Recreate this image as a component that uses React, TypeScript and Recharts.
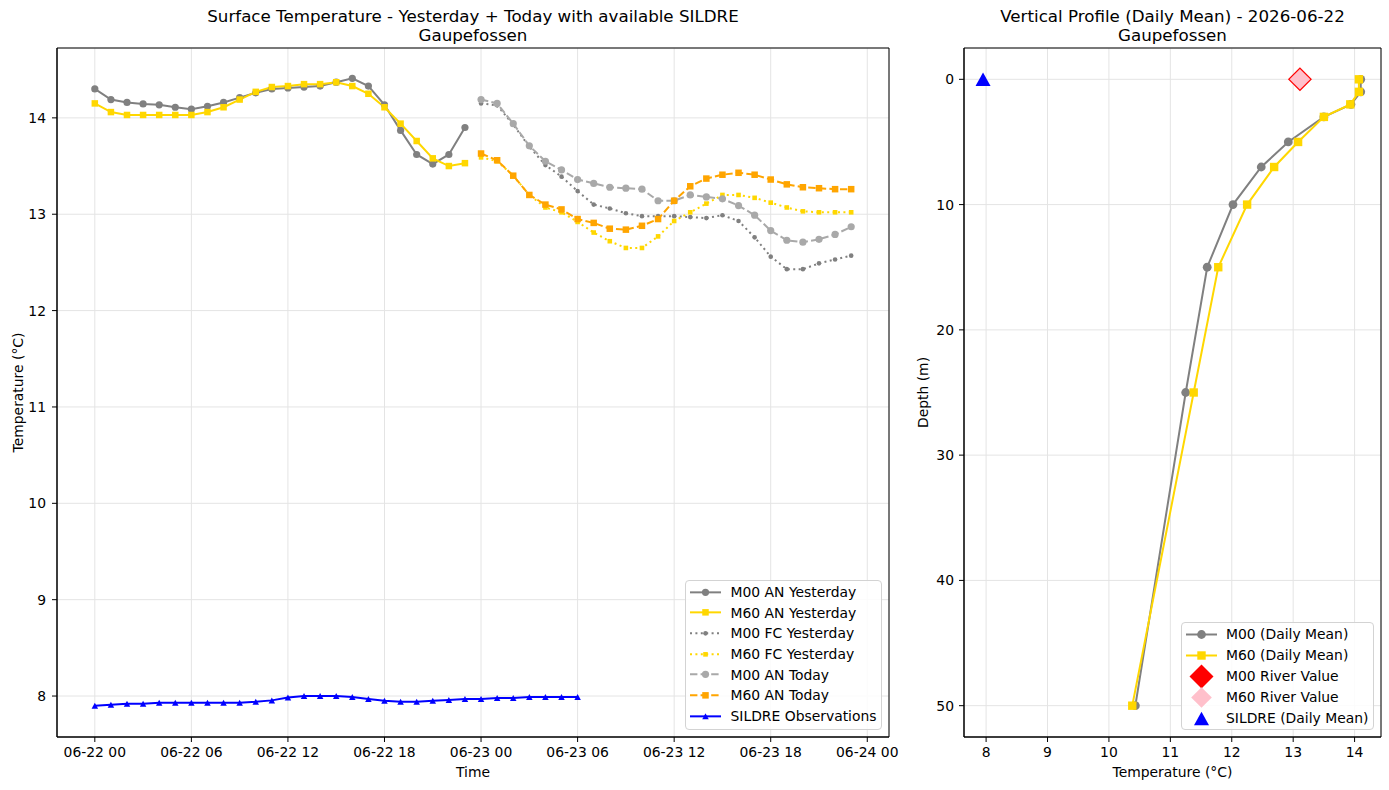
import {
  CartesianGrid,
  Label,
  Legend,
  Line,
  LineChart,
  ReferenceArea,
  Scatter,
  ScatterChart,
  XAxis,
  YAxis,
} from 'recharts'

const FONT = '"DejaVu Sans", Verdana, sans-serif'
const TICK = { fill: '#000', fontSize: 13.9, fontFamily: FONT }

const GRAY = '#808080'
const GOLD = '#ffd700'
const DARKGRAY = '#a9a9a9'
const ORANGE = '#ffa500'
const BLUE = '#0000ff'
const RED = '#ff0000'
const PINK = '#ffc0cb'
const GRID = '#e4e4e4'

const DASHED = '7.4 3.2'
const DOTTED = '2 3.4'

// hours counted from 06-22 00
const yesterdayHours = [0, 1, 2, 3, 4, 5, 6, 7, 8, 9, 10, 11, 12, 13, 14, 15, 16, 17, 18, 19, 20, 21, 22, 23]
const todayHours = [24, 25, 26, 27, 28, 29, 30, 31, 32, 33, 34, 35, 36, 37, 38, 39, 40, 41, 42, 43, 44, 45, 46, 47]
const sildreHours = [0, 1, 2, 3, 4, 5, 6, 7, 8, 9, 10, 11, 12, 13, 14, 15, 16, 17, 18, 19, 20, 21, 22, 23, 24, 25, 26, 27, 28, 29, 30]

const m00AnYesterday = [
  14.3, 14.19, 14.16, 14.145, 14.135, 14.11, 14.09, 14.12, 14.16, 14.21, 14.26, 14.3,
  14.31, 14.32, 14.33, 14.37, 14.41, 14.33, 14.135, 13.87, 13.62, 13.52, 13.62, 13.9,
]
const m60AnYesterday = [
  14.15, 14.06, 14.03, 14.03, 14.03, 14.03, 14.03, 14.06, 14.11, 14.19, 14.27, 14.32,
  14.33, 14.35, 14.35, 14.37, 14.33, 14.25, 14.11, 13.94, 13.76, 13.58, 13.5, 13.53,
]
const m00FcYesterday = [
  14.15, 14.13, 13.93, 13.7, 13.51, 13.39, 13.24, 13.1, 13.06, 13.01, 12.98, 12.98,
  12.98, 12.97, 12.96, 12.99, 12.93, 12.76, 12.56, 12.43, 12.43, 12.49, 12.53, 12.57,
]
const m60FcYesterday = [
  13.59, 13.55, 13.4, 13.2, 13.07, 13.02, 12.92, 12.81, 12.72, 12.65, 12.65, 12.77,
  12.93, 13.02, 13.11, 13.2, 13.2, 13.17, 13.12, 13.07, 13.03, 13.02, 13.02, 13.02,
]
const m00AnToday = [
  14.19, 14.15, 13.94, 13.71, 13.55, 13.46, 13.36, 13.32, 13.28, 13.27, 13.26, 13.14,
  13.14, 13.2, 13.18, 13.16, 13.09, 12.99, 12.83, 12.73, 12.71, 12.74, 12.79, 12.87,
]
const m60AnToday = [
  13.63, 13.56, 13.4, 13.2, 13.1, 13.05, 12.95, 12.91, 12.85, 12.84, 12.88, 12.95,
  13.14, 13.29, 13.37, 13.41, 13.43, 13.41, 13.36, 13.31, 13.28, 13.27, 13.26, 13.26,
]
const sildreObs = [
  7.9, 7.91, 7.92, 7.92, 7.93, 7.93, 7.93, 7.93, 7.93, 7.93, 7.94, 7.955, 7.985, 8.0, 8.0, 8.0,
  7.99, 7.97, 7.95, 7.94, 7.94, 7.95, 7.96, 7.97, 7.97, 7.98, 7.98, 7.99, 7.99, 7.99, 7.99,
]

const timeTicks = [0, 6, 12, 18, 24, 30, 36, 42, 48]
const timeTickLabels = ['06-22 00', '06-22 06', '06-22 12', '06-22 18', '06-23 00', '06-23 06', '06-23 12', '06-23 18', '06-24 00']
const surfaceTempTicks = [8, 9, 10, 11, 12, 13, 14]

// daily mean vertical profile
const profileDepths = [0, 1, 2, 3, 5, 7, 10, 15, 25, 50]
const m00Profile = [14.1, 14.1, 13.94, 13.5, 12.92, 12.48, 12.02, 11.6, 11.25, 10.43]
const m60Profile = [14.07, 14.07, 13.93, 13.5, 13.08, 12.69, 12.25, 11.78, 11.38, 10.38]
const m00RiverValue = 13.11
const m60RiverValue = 13.11
const sildreDailyMean = 7.95
const profileTempTicks = [8, 9, 10, 11, 12, 13, 14]
const depthTicks = [0, 10, 20, 30, 40, 50]

const series = (xs: number[], ys: number[]) => xs.map((h, i) => ({ h, v: ys[i] }))
const profile = (temps: number[], depths: number[]) => temps.map((t, i) => ({ t, d: depths[i] }))

type DotProps = { cx?: number; cy?: number; index?: number }
type DotFn = (p: DotProps) => JSX.Element

const circleDot = (r: number, fill: string): DotFn => (p) => (
  <circle key={`c${p.index}`} cx={p.cx} cy={p.cy} r={r} fill={fill} stroke="none" />
)
const squareDot = (s: number, fill: string): DotFn => (p) => (
  <rect key={`s${p.index}`} x={(p.cx ?? 0) - s / 2} y={(p.cy ?? 0) - s / 2} width={s} height={s} fill={fill} stroke="none" />
)
const triangleDot = (w: number, h: number, fill: string): DotFn => (p) => {
  const x = p.cx ?? 0
  const y = p.cy ?? 0
  return (
    <polygon
      key={`t${p.index}`}
      points={`${x},${y - h / 2} ${x - w / 2},${y + h / 2} ${x + w / 2},${y + h / 2}`}
      fill={fill}
      stroke="none"
    />
  )
}
const diamondDot = (half: number, fill: string): DotFn => (p) => {
  const x = p.cx ?? 0
  const y = p.cy ?? 0
  return (
    <polygon
      key={`d${p.index}`}
      points={`${x},${y - half} ${x + half},${y} ${x},${y + half} ${x - half},${y}`}
      fill={fill}
      stroke="none"
    />
  )
}

interface LegendItem {
  label: string
  color: string
  dash?: string
  line: boolean
  marker: DotFn
}

const surfaceLegend: LegendItem[] = [
  { label: 'M00 AN Yesterday', color: GRAY, line: true, marker: circleDot(3.6, GRAY) },
  { label: 'M60 AN Yesterday', color: GOLD, line: true, marker: squareDot(6.5, GOLD) },
  { label: 'M00 FC Yesterday', color: GRAY, dash: DOTTED, line: true, marker: circleDot(2.3, GRAY) },
  { label: 'M60 FC Yesterday', color: GOLD, dash: DOTTED, line: true, marker: squareDot(4.6, GOLD) },
  { label: 'M00 AN Today', color: DARKGRAY, dash: DASHED, line: true, marker: circleDot(3.6, DARKGRAY) },
  { label: 'M60 AN Today', color: ORANGE, dash: DASHED, line: true, marker: squareDot(6.5, ORANGE) },
  { label: 'SILDRE Observations', color: BLUE, line: true, marker: triangleDot(6.5, 6, BLUE) },
]

const profileLegend: LegendItem[] = [
  { label: 'M00 (Daily Mean)', color: GRAY, line: true, marker: circleDot(4.4, GRAY) },
  { label: 'M60 (Daily Mean)', color: GOLD, line: true, marker: squareDot(8.4, GOLD) },
  { label: 'M00 River Value', color: RED, line: false, marker: diamondDot(12, RED) },
  { label: 'M60 River Value', color: PINK, line: false, marker: diamondDot(10.3, PINK) },
  { label: 'SILDRE (Daily Mean)', color: BLUE, line: false, marker: triangleDot(15, 13.5, BLUE) },
]

function LegendBox({ items, rowHeight, padTop, padLeft }: { items: LegendItem[]; rowHeight: number; padTop: number; padLeft: number }) {
  return (
    <div
      style={{
        boxSizing: 'border-box',
        width: '100%',
        height: '100%',
        border: '1px solid #d3d3d3',
        borderRadius: 4,
        background: 'rgba(255,255,255,0.85)',
        paddingTop: padTop,
        paddingLeft: padLeft,
        fontFamily: FONT,
        fontSize: 13.9,
        color: '#000',
      }}
    >
      {items.map((it) => (
        <div key={it.label} style={{ display: 'flex', alignItems: 'center', height: rowHeight, whiteSpace: 'nowrap' }}>
          <svg width={31} height={rowHeight} style={{ overflow: 'visible', flex: 'none' }}>
            {it.line && (
              <line x1={0} x2={31} y1={rowHeight / 2} y2={rowHeight / 2} stroke={it.color} strokeWidth={2} strokeDasharray={it.dash} />
            )}
            {it.marker({ cx: 15.5, cy: rowHeight / 2, index: 0 })}
          </svg>
          <span style={{ marginLeft: 9.5 }}>{it.label}</span>
        </div>
      ))}
    </div>
  )
}

const bottomLabel = (text: string) => (props: any) => {
  const vb = props.viewBox
  return (
    <text x={vb.x + vb.width / 2} y={vb.y + 40} textAnchor="middle" fill="#000" fontSize={13.9} fontFamily={FONT}>
      {text}
    </text>
  )
}

const sideLabel = (text: string, x: number) => (props: any) => {
  const vb = props.viewBox
  const cy = vb.y + vb.height / 2
  return (
    <text x={x} y={cy} transform={`rotate(-90 ${x} ${cy})`} textAnchor="middle" fill="#000" fontSize={13.9} fontFamily={FONT}>
      {text}
    </text>
  )
}

function Title({ lines, center }: { lines: string[]; center: number }) {
  return (
    <div
      style={{
        position: 'absolute',
        left: center - 300,
        top: 6.5,
        width: 600,
        textAlign: 'center',
        fontFamily: FONT,
        fontSize: 16.7,
        lineHeight: '19.5px',
        color: '#000',
      }}
    >
      {lines.map((l) => (
        <div key={l}>{l}</div>
      ))}
    </div>
  )
}

function SurfaceChart() {
  const xDomain: [number, number] = [-2.35, 49.35]
  const yDomain: [number, number] = [7.575, 14.725]
  return (
    <LineChart width={900} height={790} margin={{ top: 48, right: 11, bottom: 13, left: 7 }}>
      <CartesianGrid stroke={GRID} strokeWidth={1} />
      <XAxis
        type="number"
        dataKey="h"
        domain={xDomain}
        allowDataOverflow
        ticks={timeTicks}
        tickFormatter={(v: number) => timeTickLabels[timeTicks.indexOf(v)]}
        interval={0}
        height={40}
        stroke="#000"
        tick={TICK}
        tickSize={5}
        tickMargin={5}
      >
        <Label content={bottomLabel('Time')} />
      </XAxis>
      <YAxis
        type="number"
        domain={yDomain}
        allowDataOverflow
        ticks={surfaceTempTicks}
        interval={0}
        width={50}
        stroke="#000"
        tick={TICK}
        tickSize={5}
        tickMargin={6}
      >
        <Label content={sideLabel('Temperature (°C)', 22.5)} />
      </YAxis>
      <ReferenceArea x1={xDomain[0]} x2={xDomain[1]} y1={yDomain[0]} y2={yDomain[1]} fill="none" stroke="#000" strokeWidth={1} />

      <Line data={series(yesterdayHours, m00AnYesterday)} dataKey="v" type="linear" stroke={GRAY} strokeWidth={2}
        dot={circleDot(3.6, GRAY)} activeDot={false} isAnimationActive={false} />
      <Line data={series(yesterdayHours, m60AnYesterday)} dataKey="v" type="linear" stroke={GOLD} strokeWidth={2}
        dot={squareDot(6.5, GOLD)} activeDot={false} isAnimationActive={false} />
      <Line data={series(todayHours, m00FcYesterday)} dataKey="v" type="linear" stroke={GRAY} strokeWidth={2} strokeDasharray={DOTTED}
        dot={circleDot(2.3, GRAY)} activeDot={false} isAnimationActive={false} />
      <Line data={series(todayHours, m60FcYesterday)} dataKey="v" type="linear" stroke={GOLD} strokeWidth={2} strokeDasharray={DOTTED}
        dot={squareDot(4.6, GOLD)} activeDot={false} isAnimationActive={false} />
      <Line data={series(todayHours, m00AnToday)} dataKey="v" type="linear" stroke={DARKGRAY} strokeWidth={2} strokeDasharray={DASHED}
        dot={circleDot(3.6, DARKGRAY)} activeDot={false} isAnimationActive={false} />
      <Line data={series(todayHours, m60AnToday)} dataKey="v" type="linear" stroke={ORANGE} strokeWidth={2} strokeDasharray={DASHED}
        dot={squareDot(6.5, ORANGE)} activeDot={false} isAnimationActive={false} />
      <Line data={series(sildreHours, sildreObs)} dataKey="v" type="linear" stroke={BLUE} strokeWidth={2}
        dot={triangleDot(6.5, 6, BLUE)} activeDot={false} isAnimationActive={false} />

      <Legend
        layout="vertical"
        align="center"
        verticalAlign="middle"
        wrapperStyle={{ left: 685, top: 580, width: 197, height: 150, bottom: 'auto', right: 'auto' }}
        content={() => <LegendBox items={surfaceLegend} rowHeight={20.7} padTop={0.5} padLeft={4} />}
      />
    </LineChart>
  )
}

function ProfileChart() {
  const xDomain: [number, number] = [7.64, 14.43]
  const yDomain: [number, number] = [-2.5, 52.5]
  return (
    <ScatterChart width={489} height={790} margin={{ top: 48, right: 8, bottom: 13, left: 14 }}>
      <CartesianGrid stroke={GRID} strokeWidth={1} />
      <XAxis
        type="number"
        dataKey="t"
        domain={xDomain}
        allowDataOverflow
        ticks={profileTempTicks}
        interval={0}
        height={40}
        stroke="#000"
        tick={TICK}
        tickSize={5}
        tickMargin={5}
      >
        <Label content={bottomLabel('Temperature (°C)')} />
      </XAxis>
      <YAxis
        type="number"
        dataKey="d"
        domain={yDomain}
        reversed
        allowDataOverflow
        ticks={depthTicks}
        interval={0}
        width={50}
        stroke="#000"
        tick={TICK}
        tickSize={5}
        tickMargin={5}
      >
        <Label content={sideLabel('Depth (m)', 28)} />
      </YAxis>
      <ReferenceArea x1={xDomain[0]} x2={xDomain[1]} y1={yDomain[0]} y2={yDomain[1]} fill="none" stroke="#000" strokeWidth={1} />

      <Scatter data={profile(m00Profile, profileDepths)} fill={GRAY} line={{ stroke: GRAY, strokeWidth: 2 }}
        shape={circleDot(4.4, GRAY)} isAnimationActive={false} />
      <Scatter data={profile(m60Profile, profileDepths)} fill={GOLD} line={{ stroke: GOLD, strokeWidth: 2 }}
        shape={squareDot(8.4, GOLD)} isAnimationActive={false} />
      <Scatter data={[{ t: m00RiverValue, d: 0 }]} fill={RED} shape={diamondDot(12, RED)} isAnimationActive={false} />
      <Scatter data={[{ t: m60RiverValue, d: 0 }]} fill={PINK} shape={diamondDot(10.3, PINK)} isAnimationActive={false} />
      <Scatter data={[{ t: sildreDailyMean, d: 0 }]} fill={BLUE} shape={triangleDot(15, 13.5, BLUE)} isAnimationActive={false} />

      <Legend
        layout="vertical"
        align="center"
        verticalAlign="middle"
        wrapperStyle={{ left: 281, top: 622, width: 193, height: 108, bottom: 'auto', right: 'auto' }}
        content={() => <LegendBox items={profileLegend} rowHeight={21} padTop={0.5} padLeft={3.5} />}
      />
    </ScatterChart>
  )
}

export default function App() {
  return (
    <div style={{ position: 'absolute', left: 0, top: 0, width: 1389, height: 790, background: '#fff', overflow: 'hidden' }}>
      <div style={{ position: 'absolute', left: 0, top: 0 }}>
        <SurfaceChart />
      </div>
      <div style={{ position: 'absolute', left: 900, top: 0 }}>
        <ProfileChart />
      </div>
      <Title lines={['Surface Temperature - Yesterday + Today with available SILDRE', 'Gaupefossen']} center={473} />
      <Title lines={['Vertical Profile (Daily Mean) - 2026-06-22', 'Gaupefossen']} center={1172.5} />
    </div>
  )
}
